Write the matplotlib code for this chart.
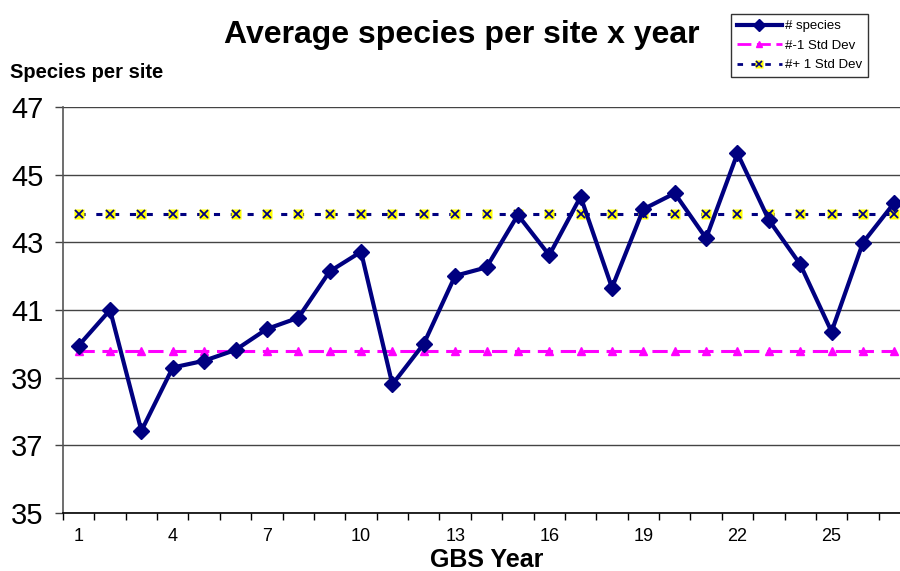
import matplotlib
matplotlib.use("Agg")
import matplotlib.pyplot as plt
from matplotlib.legend_handler import HandlerTuple
from matplotlib.lines import Line2D

plt.rcParams['font.family'] = ['Liberation Sans', 'DejaVu Sans']

years = list(range(1, 28))
species = [39.95, 41.0, 37.43, 39.3, 39.5, 39.82, 40.44, 40.77, 42.14, 42.72,
           38.8, 40.0, 42.01, 42.26, 43.81, 42.62, 44.35, 41.66, 43.98, 44.45,
           43.12, 45.63, 43.66, 42.35, 40.36, 42.99, 44.17]
minus_sd = [39.8] * 27
plus_sd = [43.85] * 27
yticks = [35, 37, 39, 41, 43, 45, 47]
xticklabels = [1, 4, 7, 10, 13, 16, 19, 22, 25]

navy = '#000080'
magenta = '#FF00FF'

fig = plt.figure(figsize=(9, 5.71), dpi=100)
ax = fig.add_axes([63/900, 1-513/571, 847/900, (513-107)/571])

ax.set_ylim(35, 47)
ax.set_xlim(0.5, 27.5)
for y in yticks:
    ax.axhline(y, color='#444444', lw=1.0, zorder=1)

ax.plot(years, minus_sd, color=magenta, lw=2.2, ls=(0, (5, 2.5)), marker='^',
        ms=6, mec=magenta, mfc=magenta, zorder=2)
ax.plot(years, plus_sd, color=navy, lw=2.2, ls=(0, (2, 3.5)), zorder=2)
ax.plot(years, plus_sd, ls='none', marker='s', ms=7, mfc='yellow', mec='none', zorder=3)
ax.plot(years, plus_sd, ls='none', marker='x', ms=5.5, mew=1.3, color=navy, zorder=4)
ax.plot(years, species, color=navy, lw=3, marker='D', ms=8.5, mfc=navy, mec=navy, zorder=5)

for s in ['top', 'right']:
    ax.spines[s].set_visible(False)
ax.spines['left'].set_color('#555555')
ax.spines['left'].set_linewidth(1.2)
ax.spines['bottom'].set_color('black')
ax.spines['bottom'].set_linewidth(1.2)

ax.set_yticks(yticks)
ax.set_yticklabels([str(v) for v in yticks], fontsize=21)
ax.tick_params(axis='y', direction='out', length=6, width=1, color='#444444', pad=8)

ax.set_xticks(xticklabels)
ax.set_xticklabels([str(v) for v in xticklabels], fontsize=13)
ax.tick_params(axis='x', which='major', length=0, pad=11)
ax.set_xticks([i + 0.5 for i in range(0, 28)], minor=True)
ax.tick_params(axis='x', which='minor', direction='out', length=5, width=1, color='black')

fig.text(462/900, 1-35/571, 'Average species per site x year', ha='center', va='center',
         fontsize=23, fontweight='bold')
fig.text(10/900, 1-72/571, 'Species per site', ha='left', va='center',
         fontsize=14.5, fontweight='bold')
fig.text(487/900, 1-560/571, 'GBS Year', ha='center', va='center',
         fontsize=18, fontweight='bold')

h1 = Line2D([], [], color=navy, lw=3, marker='D', ms=6)
h2 = Line2D([], [], color=magenta, lw=2, ls=(0, (5, 2)), marker='^', ms=5)
h3a = Line2D([], [], color=navy, lw=2, ls=(0, (2, 3)))
h3b = Line2D([], [], ls='none', marker='s', ms=6, mfc='yellow', mec='none')
h3c = Line2D([], [], ls='none', marker='x', ms=5, mew=1.2, color=navy)
leg = fig.legend([h1, h2, (h3a, h3b, h3c)], ['# species', '#-1 Std Dev', '#+ 1 Std Dev'],
                 handler_map={tuple: HandlerTuple(ndivide=1)},
                 loc='upper left', bbox_to_anchor=(731/900, 1-14/571),
                 fontsize=9.5, frameon=True, fancybox=False, edgecolor='black',
                 handlelength=3.4, borderpad=0.45, labelspacing=0.55, handletextpad=0.25,
                 borderaxespad=0)
leg.get_frame().set_linewidth(1)

fig.savefig('out.png', dpi=100)
